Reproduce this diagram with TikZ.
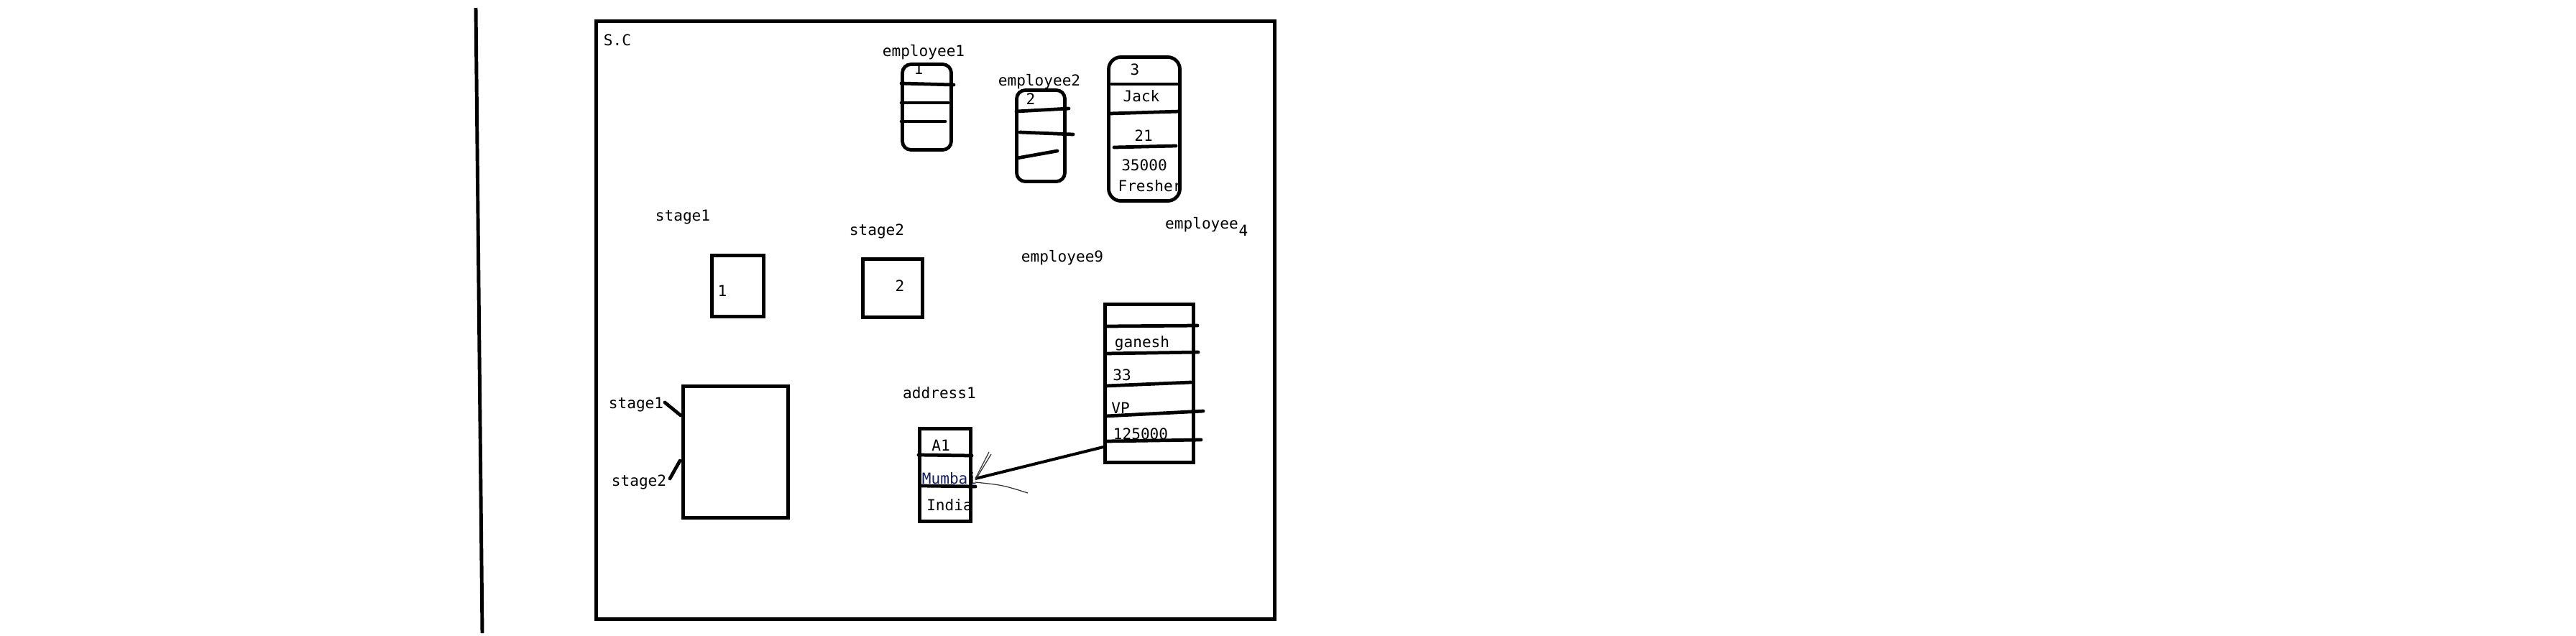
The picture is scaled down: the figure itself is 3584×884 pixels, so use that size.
\documentclass[tikz,border=0pt]{standalone}
\usepackage{fontspec}
\newfontfamily\monofam{DejaVu Sans Mono}
\definecolor{navy}{RGB}{22,30,88}
\begin{document}
\begin{tikzpicture}[x=0.01cm,y=-0.01cm,
  ln/.style={line width=1.35pt,line cap=round},
  bx/.style={draw,line width=1.35pt,inner sep=0pt},
  rbx/.style={bx,rounded corners=0.12cm},
  txt/.style={font=\monofam\fontsize{6}{7}\selectfont,inner sep=0pt},
  thin/.style={line width=0.35pt,draw=black!80}]
\useasboundingbox[fill=white] (0,0) rectangle (3584,884);

% left vertical rule
\coordinate (vt) at (662,11);
\coordinate (vb) at (671,881);
\draw[line width=1.4pt] (vt) -- (vb);

% texts (drawn first so borders overlap them)
\node[txt] (sc) at (859,56) {S.C};
\node[txt] (le1) at (1285,73) {employee1};
\node[txt] (e1a) at (1278,96) {1};
\node[txt] (le2) at (1446,114) {employee2};
\node[txt] (e2a) at (1434,138) {2};
\node[txt] (e3a) at (1579,97) {3};
\node[txt] (e3b) at (1588,134) {Jack};
\node[txt] (e3c) at (1591,189) {21};
\node[txt] (e3d) at (1592,230) {35000};
\node[txt] (e3e) at (1600,259) {Fresher};
\node[txt] (ls1) at (950,302) {stage1};
\node[txt] (ls2) at (1220,322) {stage2};
\node[txt] (le4) at (1672,313) {employee};
\node[txt] (le4s) at (1730,321) {4};
\node[txt] (le9) at (1478,359) {employee9};
\node[txt] (s1a) at (1005,405) {1};
\node[txt] (s2a) at (1252,398) {2};
\node[txt] (lad) at (1307,547) {address1};
\node[txt] (sl1) at (885,563) {stage1};
\node[txt] (sl2) at (889,671) {stage2};
\node[txt] (a1) at (1309,620) {A1};
\node[txt,text=navy] (a2) at (1321,666) {Mumbai};
\node[txt] (a3) at (1321,703) {India};
\node[txt] (g1) at (1589,478) {ganesh};
\node[txt] (g2) at (1561,522) {33};
\node[txt] (g3) at (1559,568) {VP};
\node[txt] (g4) at (1587,604) {125000};

% frame
\node[bx,minimum width=9.44cm,minimum height=8.32cm] (frame) at (1301.5,445.5) {};

% boxes
\node[rbx,minimum width=0.68cm,minimum height=1.19cm] (emp1) at (1289.5,149) {};
\node[rbx,minimum width=0.67cm,minimum height=1.27cm] (emp2) at (1448,189) {};
\node[rbx,rounded corners=0.17cm,minimum width=0.99cm,minimum height=2.0cm] (emp3) at (1592,179.5) {};
\node[bx,minimum width=0.72cm,minimum height=0.85cm] (st1) at (1026.5,398) {};
\node[bx,minimum width=0.83cm,minimum height=0.81cm] (st2) at (1242,401) {};
\node[bx,minimum width=1.46cm,minimum height=1.83cm] (big) at (1023.5,629) {};
\node[bx,minimum width=0.71cm,minimum height=1.29cm] (addr) at (1315,661) {};
\node[bx,minimum width=1.23cm,minimum height=2.2cm] (emp9) at (1599,533.5) {};

% row dividers
\draw[ln] (1254,116) -- (1327,118);
\draw[ln] (1254,143) -- (1319,143);
\draw[ln] (1254,169) -- (1315,169);
\draw[ln] (1414,155) -- (1487,151);
\draw[ln] (1419,184) -- (1493,187);
\draw[ln] (1415,220) -- (1471,210);
\draw[ln] (1547,117) -- (1639,117);
\draw[ln] (1544,158) -- (1641,155);
\draw[ln] (1550,205) -- (1636,203);
\draw[ln] (1538,454) -- (1666,453);
\draw[ln] (1538,492) -- (1667,490);
\draw[ln] (1538,537) -- (1657,532);
\draw[ln] (1538,579) -- (1674,572);
\draw[ln] (1538,614) -- (1671,612);
\draw[ln] (1278,633) -- (1352,634);
\draw[ln] (1282,676) -- (1357,677);

% label pointers to big box
\coordinate (p1a) at (925,560);
\coordinate (p1b) at (947,578);
\coordinate (p2a) at (932,666);
\coordinate (p2b) at (946,641);
\draw[ln] (p1a) -- (p1b);
\draw[ln] (p2a) -- (p2b);

% connector emp9 -> address (Mumbai)
\coordinate (c1) at (1535,622);
\coordinate (c2) at (1357,666);
\draw[line width=1.15pt] (c1) -- (c2);
\coordinate (h1) at (1376,629);
\coordinate (h1b) at (1379,632);
\coordinate (h2) at (1430,686);
\draw[thin] (c2) -- (h1);
\draw[thin] ([yshift=-0.02cm]c2) -- (h1b);
\draw[thin] ([yshift=-0.05cm]c2) .. controls (1395,675) .. (h2);
\end{tikzpicture}
\end{document}
